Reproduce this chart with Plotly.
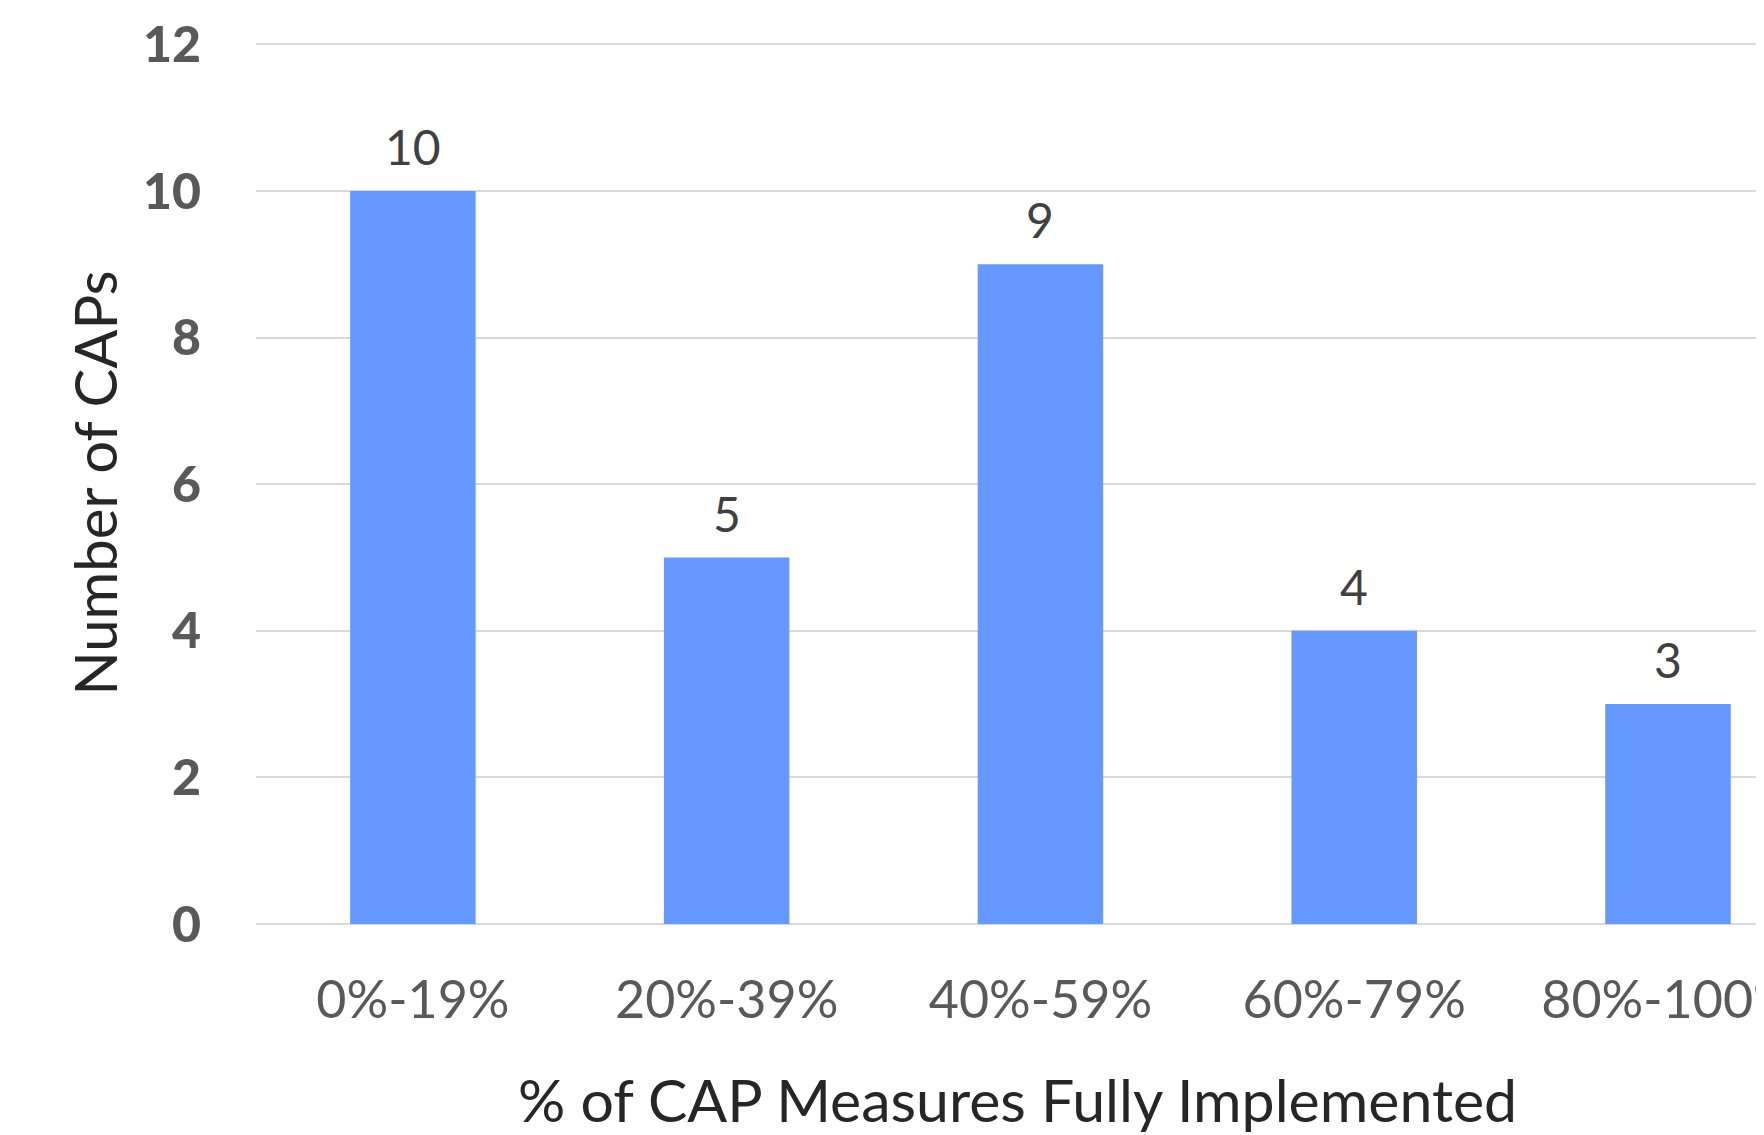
import plotly.graph_objects as go

categories = ["0%-19%", "20%-39%", "40%-59%", "60%-79%", "80%-100%"]
counts = [10, 5, 9, 4, 3]
y_ticks = [0, 2, 4, 6, 8, 10, 12]

FONT = "Lato"

fig = go.Figure()
fig.add_trace(go.Bar(
    x=categories, y=counts,
    marker=dict(color="#6699FF", line=dict(width=0)),
    width=0.4,
    hoverinfo="skip",
))

for c, v in zip(categories, counts):
    fig.add_annotation(
        x=c, y=v, text=str(v), showarrow=False,
        yanchor="bottom", yshift=14,
        font=dict(family=FONT, size=48, color="#404040"),
    )

# axis titles
fig.add_annotation(
    xref="paper", yref="paper", x=0.505, y=0, xanchor="center", yanchor="middle",
    yshift=-175, showarrow=False,
    text="% of CAP Measures Fully Implemented",
    font=dict(family=FONT, size=59, color="#262626"),
)
fig.add_annotation(
    xref="paper", yref="paper", x=0, y=0.5, xanchor="center", yanchor="middle",
    xshift=-162, showarrow=False, textangle=-90,
    text="Number of CAPs",
    font=dict(family=FONT, size=58, color="#262626"),
)

fig.update_layout(
    width=1756, height=1127,
    margin=dict(l=248, r=0, t=35, b=211),
    plot_bgcolor="white", paper_bgcolor="white",
    showlegend=False,
    xaxis=dict(
        range=[-0.5, 4.306], automargin=False,
        showgrid=False, zeroline=False, showline=False,
        ticks="", ticklabelstandoff=41,
        tickfont=dict(family=FONT, size=52, color="#595959"),
    ),
    yaxis=dict(
        range=[0, 12.02], tickvals=y_ticks, automargin=False,
        showgrid=True, gridcolor="#D9D9D9", gridwidth=2,
        zeroline=True, zerolinecolor="#D9D9D9", zerolinewidth=2,
        showline=False, ticks="", ticklabelstandoff=54,
        tickfont=dict(family=FONT, size=50, color="#595959", weight=900),
    ),
)

fig.write_html("out.html")
